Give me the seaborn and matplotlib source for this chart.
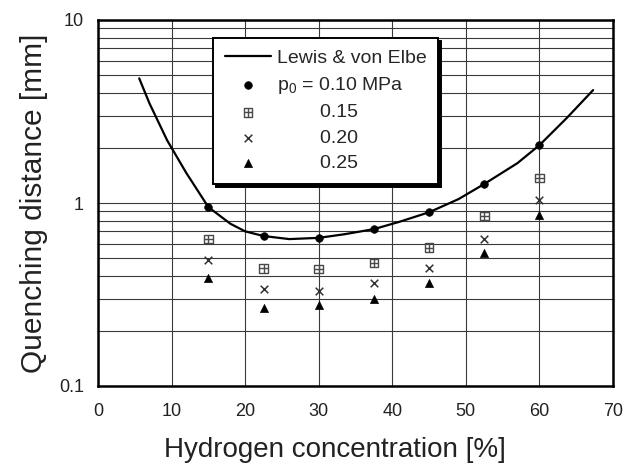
import matplotlib
matplotlib.use("Agg")
import matplotlib.pyplot as plt
from matplotlib.path import Path
import seaborn as sns
import numpy as np
import pandas as pd

# Lewis & von Elbe reference curve
curve_x = [5.6, 7.0, 9.4, 12.0, 15.0, 18.0, 20.0, 22.5, 26.0, 30.0, 33.5,
           37.5, 41.0, 45.0, 49.0, 52.5, 57.0, 60.0, 63.7, 67.3]
curve_y = [4.8, 3.5, 2.2, 1.46, 0.95, 0.77, 0.70, 0.66, 0.635, 0.645, 0.675,
           0.72, 0.79, 0.89, 1.05, 1.27, 1.65, 2.07, 2.91, 4.14]

# Measured quenching distances at each initial pressure
h2 = [15, 22.5, 30, 37.5, 45, 52.5, 60]
p010 = [0.95, 0.66, 0.645, 0.72, 0.89, 1.27, 2.07]
p015 = [0.636, 0.44, 0.435, 0.47, 0.57, 0.85, 1.37]
p020 = [0.49, 0.34, 0.33, 0.365, 0.44, 0.636, 1.04]
p025 = [0.39, 0.267, 0.277, 0.30, 0.365, 0.53, 0.86]

x_ticks = [0, 10, 20, 30, 40, 50, 60, 70]
y_ticks = [0.1, 1, 10]
y_ticklabels = ["0.1", "1", "10"]

sns.set_theme(style="white")
plt.rcParams["font.family"] = ["Liberation Sans", "DejaVu Sans"]
plt.rcParams["mathtext.fontset"] = "custom"
plt.rcParams["mathtext.rm"] = "Liberation Sans"
plt.rcParams["mathtext.it"] = "Liberation Sans:italic"

# square with a cross inside (boxed plus)
boxplus = Path(
    [(-1, -1), (1, -1), (1, 1), (-1, 1), (-1, -1),
     (0, -1), (0, 1), (-1, 0), (1, 0)],
    [Path.MOVETO, Path.LINETO, Path.LINETO, Path.LINETO, Path.CLOSEPOLY,
     Path.MOVETO, Path.LINETO, Path.MOVETO, Path.LINETO],
)

fig = plt.figure(figsize=(6.26, 4.68), dpi=100)
ax = fig.add_axes([98 / 626, 1 - 386 / 468, 515 / 626, 366 / 468])

ax.set_yscale("log")
ax.set_xlim(0, 70)
ax.set_ylim(0.1, 10)

# grid: vertical every 10 %, horizontal on every log decade subdivision
ax.set_xticks(x_ticks)
ax.set_yticks(y_ticks)
ax.set_yticklabels(y_ticklabels)
ax.yaxis.set_minor_locator(matplotlib.ticker.LogLocator(base=10, subs=np.arange(2, 10)))
ax.yaxis.set_minor_formatter(matplotlib.ticker.NullFormatter())
ax.grid(True, which="both", axis="y", color="#3a3a3a", linewidth=0.8)
ax.grid(True, which="major", axis="x", color="#3a3a3a", linewidth=0.8)
ax.set_axisbelow(True)

curve = pd.DataFrame({"x": curve_x, "y": curve_y})
sns.lineplot(data=curve, x="x", y="y", ax=ax, color="black", linewidth=1.6,
             sort=False, estimator=None, label="Lewis & von Elbe")

sns.scatterplot(x=h2, y=p010, ax=ax, marker="o", color="black", s=30,
                edgecolor="black", linewidth=0.5, zorder=3,
                label=r"p$_\mathregular{0}$ = 0.10 MPa")
sns.scatterplot(x=h2, y=p015, ax=ax, marker=boxplus, facecolor="none",
                edgecolor="#4a4a4a", s=38, linewidth=1.0, zorder=3,
                label="        0.15")
sns.scatterplot(x=h2, y=p020, ax=ax, marker="x", color="#333333", s=30,
                linewidth=1.1, zorder=3, label="        0.20")
sns.scatterplot(x=h2, y=p025, ax=ax, marker="^", color="black", s=34,
                edgecolor="black", linewidth=0.5, zorder=3, label="        0.25")

handles, labels = ax.get_legend_handles_labels()
leg = ax.legend(handles, labels, loc="upper left", bbox_to_anchor=(0.223, 0.951),
                borderaxespad=0, frameon=True, fancybox=False,
                shadow={"color": "black", "alpha": 1.0, "ox": 2, "oy": -2},
                fontsize=14, handlelength=2.4, handletextpad=0.3,
                labelspacing=0.4, borderpad=0.6, scatterpoints=1)
leg.get_frame().set_edgecolor("black")
leg.get_frame().set_linewidth(1.4)
leg.get_frame().set_facecolor("white")
leg.set_zorder(5)

for side in ax.spines.values():
    side.set_visible(True)
    side.set_color("black")
    side.set_linewidth(1.8)

ax.tick_params(axis="both", which="both", length=0, labelsize=13, colors="#222222")
ax.tick_params(axis="x", pad=12)
ax.tick_params(axis="y", pad=10)

ax.set_xlabel("Hydrogen concentration [%]", fontsize=20, color="#222222", labelpad=10)
ax.set_ylabel("Quenching distance [mm]", fontsize=21.5, color="#222222", labelpad=8)
ax.xaxis.set_label_coords(0.46, -0.14)

fig.savefig("out.png", dpi=100)
